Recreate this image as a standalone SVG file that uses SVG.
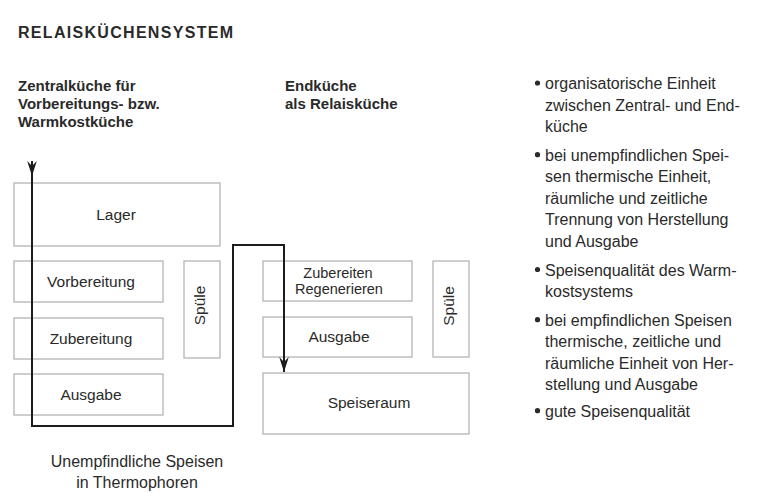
<svg xmlns="http://www.w3.org/2000/svg" width="759" height="500" viewBox="0 0 759 500">
<defs>
<style>
.box{fill:#ffffff;stroke:#b4b4b4;stroke-width:1.3}
.lbl{font-family:"Liberation Sans",Arial,sans-serif;font-size:15.5px;fill:#2a2a2a;text-anchor:middle}
.hd{font-family:"Liberation Sans",Arial,sans-serif;font-size:15px;font-weight:bold;fill:#2a2a2a}
.title{font-family:"Liberation Sans",Arial,sans-serif;font-size:16px;font-weight:bold;fill:#2a2a2a}
.tx{font-family:"Liberation Sans",Arial,sans-serif;font-size:16px;fill:#2a2a2a}
.dot{fill:#2a2a2a}
.flow{fill:none;stroke:#1c1c1c;stroke-width:2}
</style>
<marker id="arr" markerUnits="userSpaceOnUse" markerWidth="18" markerHeight="12" viewBox="-16 -6 18 12" refX="0" refY="0" orient="auto">
<path d="M0,0 L-15,-4.8 L-10,0 L-15,4.8 Z" fill="#1c1c1c"/>
</marker>
</defs>
<rect width="759" height="500" fill="#ffffff"/>

<text class="title" x="18" y="37.5" textLength="215" lengthAdjust="spacing">RELAISKÜCHENSYSTEM</text>

<g id="heading-left">
<text class="hd" x="18" y="90.5">Zentralküche für</text>
<text class="hd" x="18" y="108.5">Vorbereitungs- bzw.</text>
<text class="hd" x="18" y="126.7">Warmkostküche</text>
</g>
<g id="heading-right">
<text class="hd" x="285" y="90.5">Endküche</text>
<text class="hd" x="285" y="108.5">als Relaisküche</text>
</g>

<g id="node-lager"><rect class="box" x="14" y="183" width="206" height="63"/><text class="lbl" x="116" y="219.5">Lager</text></g>
<g id="node-vorbereitung"><rect class="box" x="14" y="261" width="149" height="41"/><text class="lbl" x="91" y="286.5">Vorbereitung</text></g>
<g id="node-zubereitung"><rect class="box" x="14" y="318" width="149" height="41"/><text class="lbl" x="91" y="344">Zubereitung</text></g>
<g id="node-ausgabe-1"><rect class="box" x="14" y="374" width="149" height="41"/><text class="lbl" x="91" y="399.5">Ausgabe</text></g>
<g id="node-spuele-1"><rect class="box" x="184" y="261" width="36" height="97"/><text class="lbl" transform="translate(204.5,305.5) rotate(-90)">Spüle</text></g>

<g id="node-zubereiten"><rect class="box" x="263" y="261" width="149" height="40"/><text class="lbl" x="338" y="277.5" style="font-size:14.5px">Zubereiten</text><text class="lbl" x="339" y="294" style="font-size:14.5px">Regenerieren</text></g>
<g id="node-ausgabe-2"><rect class="box" x="263" y="317" width="149" height="40"/><text class="lbl" x="339" y="342">Ausgabe</text></g>
<g id="node-spuele-2"><rect class="box" x="433" y="261" width="36" height="96"/><text class="lbl" transform="translate(454,306) rotate(-90)">Spüle</text></g>
<g id="node-speiseraum"><rect class="box" x="263" y="373" width="206" height="61"/><text class="lbl" x="369" y="408">Speiseraum</text></g>

<g id="connectors">
<path class="flow" d="M32,161 V426 H233 V245 H284 V372" marker-end="url(#arr)"/>
<path class="flow" d="M32,161 V176" marker-end="url(#arr)"/>
</g>

<g id="caption">
<text class="tx" x="137" y="467.3" text-anchor="middle">Unempfindliche Speisen</text>
<text class="tx" x="137" y="488.3" text-anchor="middle">in Thermophoren</text>
</g>

<g id="bullets">
<circle class="dot" cx="537.5" cy="83" r="2.6"/>
<text class="tx" x="545" y="89">organisatorische Einheit</text>
<text class="tx" x="545" y="110.5">zwischen Zentral- und End-</text>
<text class="tx" x="545" y="132">küche</text>
<circle class="dot" cx="537.5" cy="154.7" r="2.6"/>
<text class="tx" x="545" y="160.7">bei unempfindlichen Spei-</text>
<text class="tx" x="545" y="182">sen thermische Einheit,</text>
<text class="tx" x="545" y="203.5">räumliche und zeitliche</text>
<text class="tx" x="545" y="225">Trennung von Herstellung</text>
<text class="tx" x="545" y="246.7">und Ausgabe</text>
<circle class="dot" cx="537.5" cy="269.5" r="2.6"/>
<text class="tx" x="545" y="275.5">Speisenqualität des Warm-</text>
<text class="tx" x="545" y="297">kostsystems</text>
<circle class="dot" cx="537.5" cy="319.7" r="2.6"/>
<text class="tx" x="545" y="325.7">bei empfindlichen Speisen</text>
<text class="tx" x="545" y="347">thermische, zeitliche und</text>
<text class="tx" x="545" y="368.5">räumliche Einheit von Her-</text>
<text class="tx" x="545" y="390">stellung und Ausgabe</text>
<circle class="dot" cx="537.5" cy="410.7" r="2.6"/>
<text class="tx" x="545" y="416.7">gute Speisenqualität</text>
</g>
</svg>
